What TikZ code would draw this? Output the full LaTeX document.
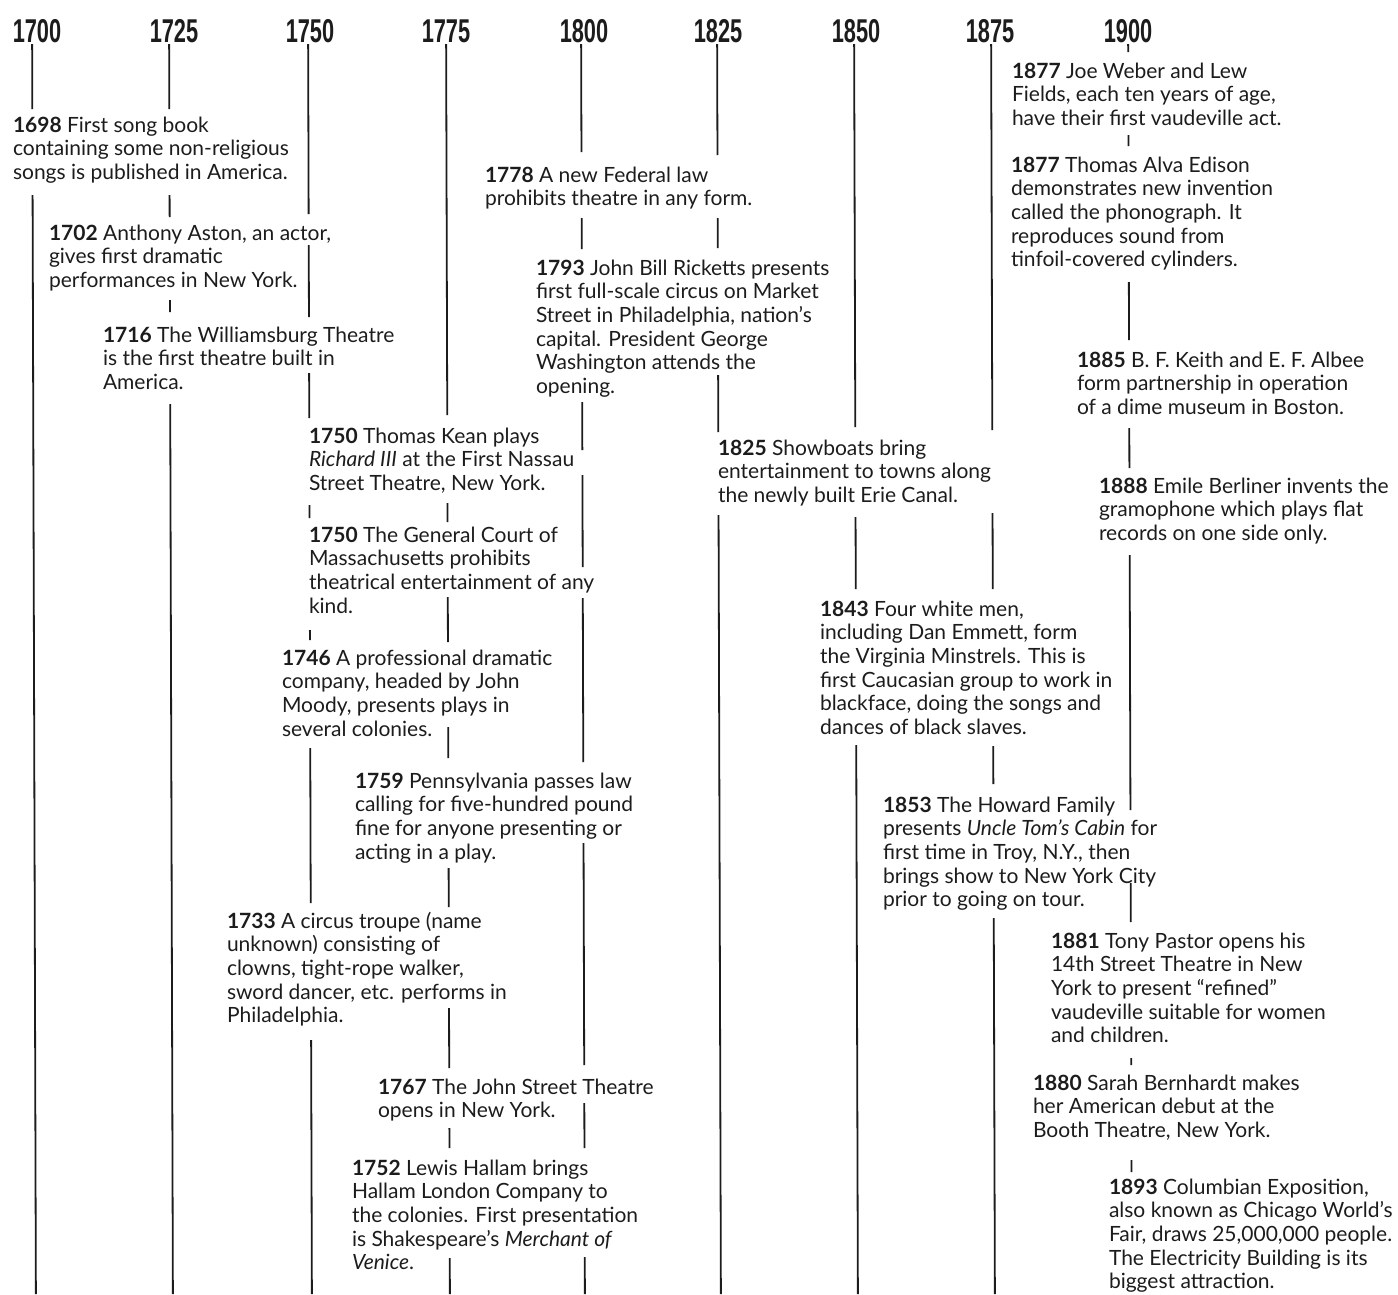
\documentclass[tikz,border=0pt]{standalone}
\usepackage{fontspec}
\setmainfont{Lato}
\newfontfamily\yearfont{Liberation Sans}
\definecolor{ink}{HTML}{1C1C1C}
\tikzset{
  tl/.style={line width=1.8pt, draw=ink},
  ev/.style={inner sep=0pt, outer sep=0pt, text=ink, font=\fontsize{21}{23.7}\selectfont, anchor=base west},
  yr/.style={inner sep=0pt, text=ink, anchor=base, font=\yearfont\bfseries\fontsize{33}{33}\selectfont}
}
\newcommand\seg[3]{\draw[tl] ({#1+0.003*#2},#2) -- ({#1+0.003*#3},#3);}
\newcommand\ev[4]{\node[ev] (#1) at (#2,#3) {\begin{tabular}[t]{@{}l@{}}#4\end{tabular}};}
\newcommand\yr[3]{\node[yr] (#1) at (#2,42) {\scalebox{0.66}[1]{#3}};}
\begin{document}
\begin{tikzpicture}[x=1pt,y=-1pt]
\useasboundingbox (0,0) rectangle (1398,1294);
% year labels
\yr{y1700}{37}{1700}
\yr{y1725}{174}{1725}
\yr{y1750}{310}{1750}
\yr{y1775}{446}{1775}
\yr{y1800}{584}{1800}
\yr{y1825}{718}{1825}
\yr{y1850}{856}{1850}
\yr{y1875}{990}{1875}
\yr{y1900}{1128}{1900}
% column lines
% 1700
\seg{32}{44}{109}\seg{32}{195}{1294}
% 1725
\seg{169}{44}{109}\seg{169}{195}{217}\seg{169}{300}{312}\seg{169}{404}{1294}
% 1750
\seg{308}{44}{214}\seg{308}{245}{317}\seg{308}{373}{418}\seg{308}{505}{518}\seg{308}{630}{640}\seg{308}{748}{903}\seg{308}{1040}{1294}
% 1775
\seg{446}{44}{415}\seg{446}{503}{522}\seg{446}{597}{642}\seg{446}{727}{758}\seg{446}{868}{907}\seg{446}{1008}{1068}\seg{446}{1128}{1148}\seg{446}{1258}{1294}
% 1800
\seg{581}{44}{152}\seg{581}{218}{249}\seg{581}{402}{450}\seg{581}{475}{567}\seg{581}{598}{762}\seg{581}{843}{1065}\seg{581}{1103}{1148}\seg{581}{1257}{1294}
% 1825
\seg{717}{44}{155}\seg{717}{218}{248}\seg{717}{375}{432}\seg{717}{515}{1294}
% 1850
\seg{854}{44}{427}\seg{854}{517}{589}\seg{854}{745}{1294}
% 1875
\seg{991}{44}{430}\seg{991}{513}{589}\seg{991}{746}{784}\seg{991}{918}{1294}
% 1900
\seg{1128}{44}{52}\seg{1128}{135}{146}\seg{1128}{282}{340}\seg{1128}{428}{468}\seg{1128}{555}{810}\seg{1128}{883}{922}\seg{1128}{1058}{1065}\seg{1128}{1160}{1172}
% events
\ev{e1698}{13}{132}{\textbf{1698} First song book\\containing some non-religious\\songs is published in America.}
\ev{e1702}{49}{240}{\textbf{1702} Anthony Aston, an actor,\\gives first dramatic\\performances in New York.}
\ev{e1716}{103}{342}{\textbf{1716} The Williamsburg Theatre\\is the first theatre built in\\America.}
\ev{e1778}{485}{182}{\textbf{1778} A new Federal law\\prohibits theatre in any form.}
\ev{e1793}{536}{275}{\textbf{1793} John Bill Ricketts presents\\first full-scale circus on Market\\Street in Philadelphia, nation’s\\capital. President George\\Washington attends the\\opening.}
\ev{e1750a}{309}{443}{\textbf{1750} Thomas Kean plays\\\textit{Richard III} at the First Nassau\\Street Theatre, New York.}
\ev{e1750b}{309}{542}{\textbf{1750} The General Court of\\Massachusetts prohibits\\theatrical entertainment of any\\kind.}
\ev{e1746}{282}{665}{\textbf{1746} A professional dramatic\\company, headed by John\\Moody, presents plays in\\several colonies.}
\ev{e1759}{355}{788}{\textbf{1759} Pennsylvania passes law\\calling for five-hundred pound\\fine for anyone presenting or\\acting in a play.}
\ev{e1733}{227}{928}{\textbf{1733} A circus troupe (name\\unknown) consisting of\\clowns, tight-rope walker,\\sword dancer, etc. performs in\\Philadelphia.}
\ev{e1767}{378}{1094}{\textbf{1767} The John Street Theatre\\opens in New York.}
\ev{e1752}{352}{1175}{\textbf{1752} Lewis Hallam brings\\Hallam London Company to\\the colonies. First presentation\\is Shakespeare’s \textit{Merchant of}\\\textit{Venice}.}
\ev{e1825}{718}{455}{\textbf{1825} Showboats bring\\entertainment to towns along\\the newly built Erie Canal.}
\ev{e1843}{820}{616}{\textbf{1843} Four white men,\\including Dan Emmett, form\\the Virginia Minstrels. This is\\first Caucasian group to work in\\blackface, doing the songs and\\dances of black slaves.}
\ev{e1853}{883}{812}{\textbf{1853} The Howard Family\\presents \textit{Uncle Tom’s Cabin} for\\first time in Troy, N.Y., then\\brings show to New York City\\prior to going on tour.}
\ev{e1877a}{1012}{78}{\textbf{1877} Joe Weber and Lew\\Fields, each ten years of age,\\have their first vaudeville act.}
\ev{e1877b}{1011}{172}{\textbf{1877} Thomas Alva Edison\\demonstrates new invention\\called the phonograph. It\\reproduces sound from\\tinfoil-covered cylinders.}
\ev{e1885}{1077}{367}{\textbf{1885} B. F. Keith and E. F. Albee\\form partnership in operation\\of a dime museum in Boston.}
\ev{e1888}{1099}{493}{\textbf{1888} Emile Berliner invents the\\gramophone which plays flat\\records on one side only.}
\ev{e1881}{1051}{948}{\textbf{1881} Tony Pastor opens his\\14th Street Theatre in New\\York to present “refined”\\vaudeville suitable for women\\and children.}
\ev{e1880}{1033}{1090}{\textbf{1880} Sarah Bernhardt makes\\her American debut at the\\Booth Theatre, New York.}
\ev{e1893}{1109}{1194}{\textbf{1893} Columbian Exposition,\\also known as Chicago World’s\\Fair, draws 25,000,000 people.\\The Electricity Building is its\\biggest attraction.}
\end{tikzpicture}
\end{document}
